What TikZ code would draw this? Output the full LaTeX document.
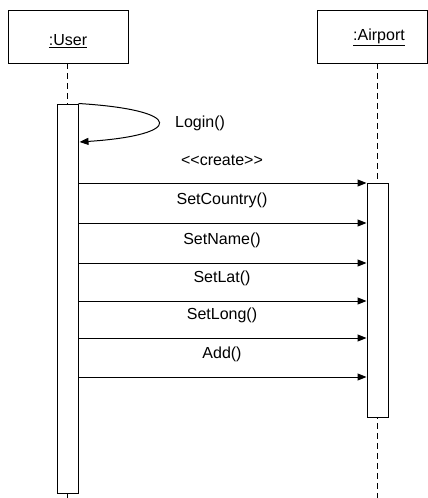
\documentclass[tikz,border=0pt]{standalone}
\usepackage{fontspec}
\setmainfont{Liberation Sans}
\usepackage{tikz}
\usetikzlibrary{arrows.meta,positioning,calc}

\tikzset{
  objbox/.style={draw, line width=1pt, minimum width=120pt, minimum height=53pt, inner sep=0pt},
  actbar/.style={draw, fill=white, line width=1pt, minimum width=21pt, inner sep=0pt},
  lifeline/.style={line width=1pt, dash pattern=on 6pt off 4pt},
  msg/.style={line width=1pt, -{Triangle[length=9pt,width=7pt]}},
  msglbl/.style={font=\fontsize{16}{19}\selectfont, inner sep=1pt}
}

\begin{document}
\begin{tikzpicture}[x=1pt, y=-1pt]
            \useasboundingbox (0,0) rectangle (428,498);
            % Objects
            \node[objbox] (user) at (68,36.5) {};
            \node[msglbl] (usertxt) at (68,41) {\underline{:User}};
            \node[objbox, minimum width=110pt] (airport) at (372,36.5) {};
            \node[msglbl] (airtxt) at (379,37) {\underline{:Airport}};

            % Lifelines
            \coordinate (uend) at (67.5,498);
            \coordinate (aend) at (377.5,498);
            \draw[lifeline] (67.5,63) -- (uend);
            \draw[lifeline] (377.5,63) -- (aend);

            % Activation bars
            \node[actbar, minimum height=389pt] (ubar) at (67.5,298.5) {};
            \node[actbar, minimum height=234pt] (abar) at (377.5,300) {};

            % Login (self call)
            \draw[msg] (ubar.north east) .. controls (185,110) and (185,135) .. ($(ubar.east |- 0,142)+(1,0)$);
            \node[msglbl, anchor=west] (login) at (174,123) {Login()};

            % Messages to Airport
            \foreach \y/\txt [count=\i] in {183/{<\kern0pt<create>\kern0pt>}, 223/{SetCountry()}, 263/{SetName()}, 301/{SetLat()}, 338/{SetLong()}, 377/{Add()}} {
              \node[msglbl] (lbl\i) at (222,\y-23) {\txt};
              \draw[msg] (ubar.east |- 0,\y) -- (abar.west |- 0,\y);
            }
        \end{tikzpicture}
\end{document}
